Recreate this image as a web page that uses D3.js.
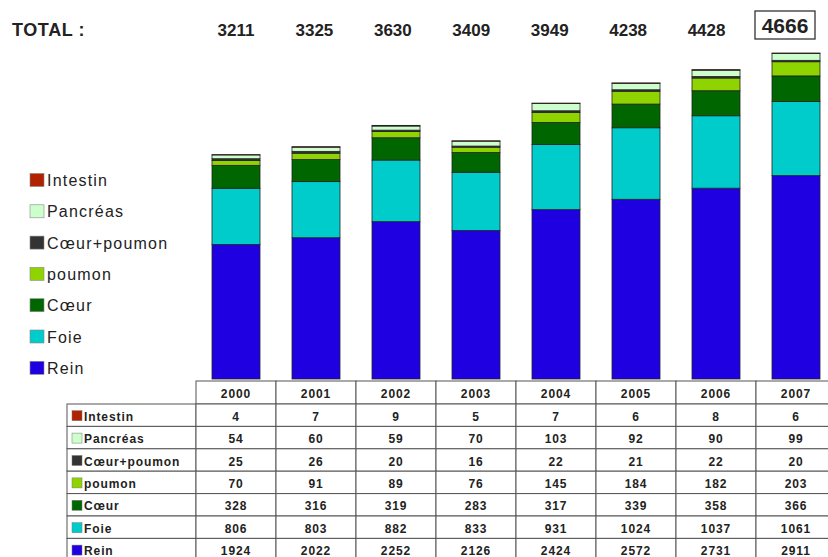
<!DOCTYPE html>
<html><head><meta charset="utf-8">
<script src="https://cdn.jsdelivr.net/npm/d3@7/dist/d3.min.js"></script>
<style>body{margin:0;background:#fff}svg{display:block}text{font-family:"Liberation Sans",Arial,sans-serif}</style>
</head><body><svg id="c" width="828" height="557"></svg>
<script>
const years = ["2000","2001","2002","2003","2004","2005","2006","2007"];
const organs = ["Rein","Foie","Cœur","poumon","Cœur+poumon","Pancréas","Intestin"];
const colors = ["#1f00e0","#00cccc","#006600","#8fd400","#333333","#ccffcc","#b02200"];
const Rein = [1924,2022,2252,2126,2424,2572,2731,2911];
const Foie = [806,803,882,833,931,1024,1037,1061];
const Coeur = [328,316,319,283,317,339,358,366];
const poumon = [70,91,89,76,145,184,182,203];
const CoeurPoumon = [25,26,20,16,22,21,22,20];
const Pancreas = [54,60,59,70,103,92,90,99];
const Intestin = [4,7,9,5,7,6,8,6];
const totals = [3211,3325,3630,3409,3949,4238,4428,4666];

const series = [Rein,Foie,Coeur,poumon,CoeurPoumon,Pancreas,Intestin];
const rows = years.map((y,i)=>{const o={year:y}; organs.forEach((k,j)=>o[k]=series[j][i]); return o;});
const stack = d3.stack().keys(organs)(rows);

const svg = d3.select("#c");
const x = d3.scaleBand().domain(years).range([196,836]).paddingInner(0.4).paddingOuter(0.2);
const y = d3.scaleLinear().domain([0,4666]).range([379,53]);
const color = d3.scaleOrdinal().domain(organs).range(colors);

svg.append("g").selectAll("g").data(stack).join("g")
  .attr("fill",d=>color(d.key))
  .selectAll("rect").data(d=>d).join("rect")
  .attr("x",d=>x(d.data.year)).attr("width",x.bandwidth())
  .attr("y",d=>y(d[1])).attr("height",d=>Math.max(0,y(d[0])-y(d[1])))
  .attr("stroke","#222").attr("stroke-width",0.8);

// Totals
svg.append("text").attr("x",12).attr("y",36).attr("font-size",18).attr("letter-spacing",0.6)
  .attr("font-weight","bold").attr("fill","#222").text("TOTAL :");
const tx = d3.scalePoint().domain(years).range([236,785]);
svg.append("g").selectAll("text").data(totals).join("text")
  .attr("x",(d,i)=>tx(years[i])).attr("y",(d,i)=>i===7?33:36)
  .attr("text-anchor","middle").attr("font-weight","bold").attr("fill","#222")
  .attr("font-size",(d,i)=>i===7?21:17).text(d=>d);
svg.append("rect").attr("x",tx(years[7])-30).attr("y",11).attr("width",60).attr("height",28)
  .attr("fill","none").attr("stroke","#333").attr("stroke-width",1.3);

// Legend
const legendOrder = organs.slice().reverse();
const lg = svg.append("g").selectAll("g").data(legendOrder).join("g")
  .attr("transform",(d,i)=>`translate(30,${180+i*31.3})`);
lg.append("rect").attr("x",0).attr("y",-6.5).attr("width",14).attr("height",13)
  .attr("fill",d=>color(d)).attr("stroke","#888").attr("stroke-width",0.6);
lg.append("text").attr("x",17).attr("y",6).attr("font-size",16).attr("letter-spacing",1.2)
  .attr("fill","#222").text(d=>d);

// Table
const colW = 80, left0 = 196, labelLeft = 67;
const headTop = 381, headH = 23, rowH = 22.4, rowTop = headTop+headH;
const tb = svg.append("g");
const gridColor = "#555";
const fs = 12, ls = 0.9;
tb.append("g").selectAll("rect").data(years).join("rect")
  .attr("x",(d,i)=>left0+i*colW).attr("y",headTop).attr("width",colW).attr("height",headH)
  .attr("fill","#fff").attr("stroke",gridColor).attr("stroke-width",1);
tb.append("g").selectAll("text").data(years).join("text")
  .attr("x",(d,i)=>left0+i*colW+colW/2).attr("y",headTop+headH/2+5)
  .attr("text-anchor","middle").attr("font-size",fs).attr("letter-spacing",ls)
  .attr("font-weight","bold").attr("fill","#222").text(d=>d);
legendOrder.forEach((org,r)=>{
  const yy = rowTop + r*rowH;
  const vals = series[organs.indexOf(org)];
  tb.append("rect").attr("x",labelLeft).attr("y",yy).attr("width",left0-labelLeft).attr("height",rowH)
    .attr("fill","#fff").attr("stroke",gridColor).attr("stroke-width",1);
  tb.append("rect").attr("x",labelLeft+5).attr("y",yy+rowH/2-4.5).attr("width",10).attr("height",10)
    .attr("fill",color(org)).attr("stroke","#777").attr("stroke-width",0.5);
  tb.append("text").attr("x",labelLeft+17).attr("y",yy+rowH/2+5.5).attr("font-size",fs).attr("letter-spacing",ls)
    .attr("font-weight","bold").attr("fill","#222").text(org);
  vals.forEach((v,i)=>{
    tb.append("rect").attr("x",left0+i*colW).attr("y",yy).attr("width",colW).attr("height",rowH)
      .attr("fill","#fff").attr("stroke",gridColor).attr("stroke-width",1);
    tb.append("text").attr("x",left0+i*colW+colW/2).attr("y",yy+rowH/2+5.5).attr("text-anchor","middle")
      .attr("font-size",fs).attr("letter-spacing",ls).attr("font-weight","bold").attr("fill","#222").text(v);
  });
});
</script></body></html>
